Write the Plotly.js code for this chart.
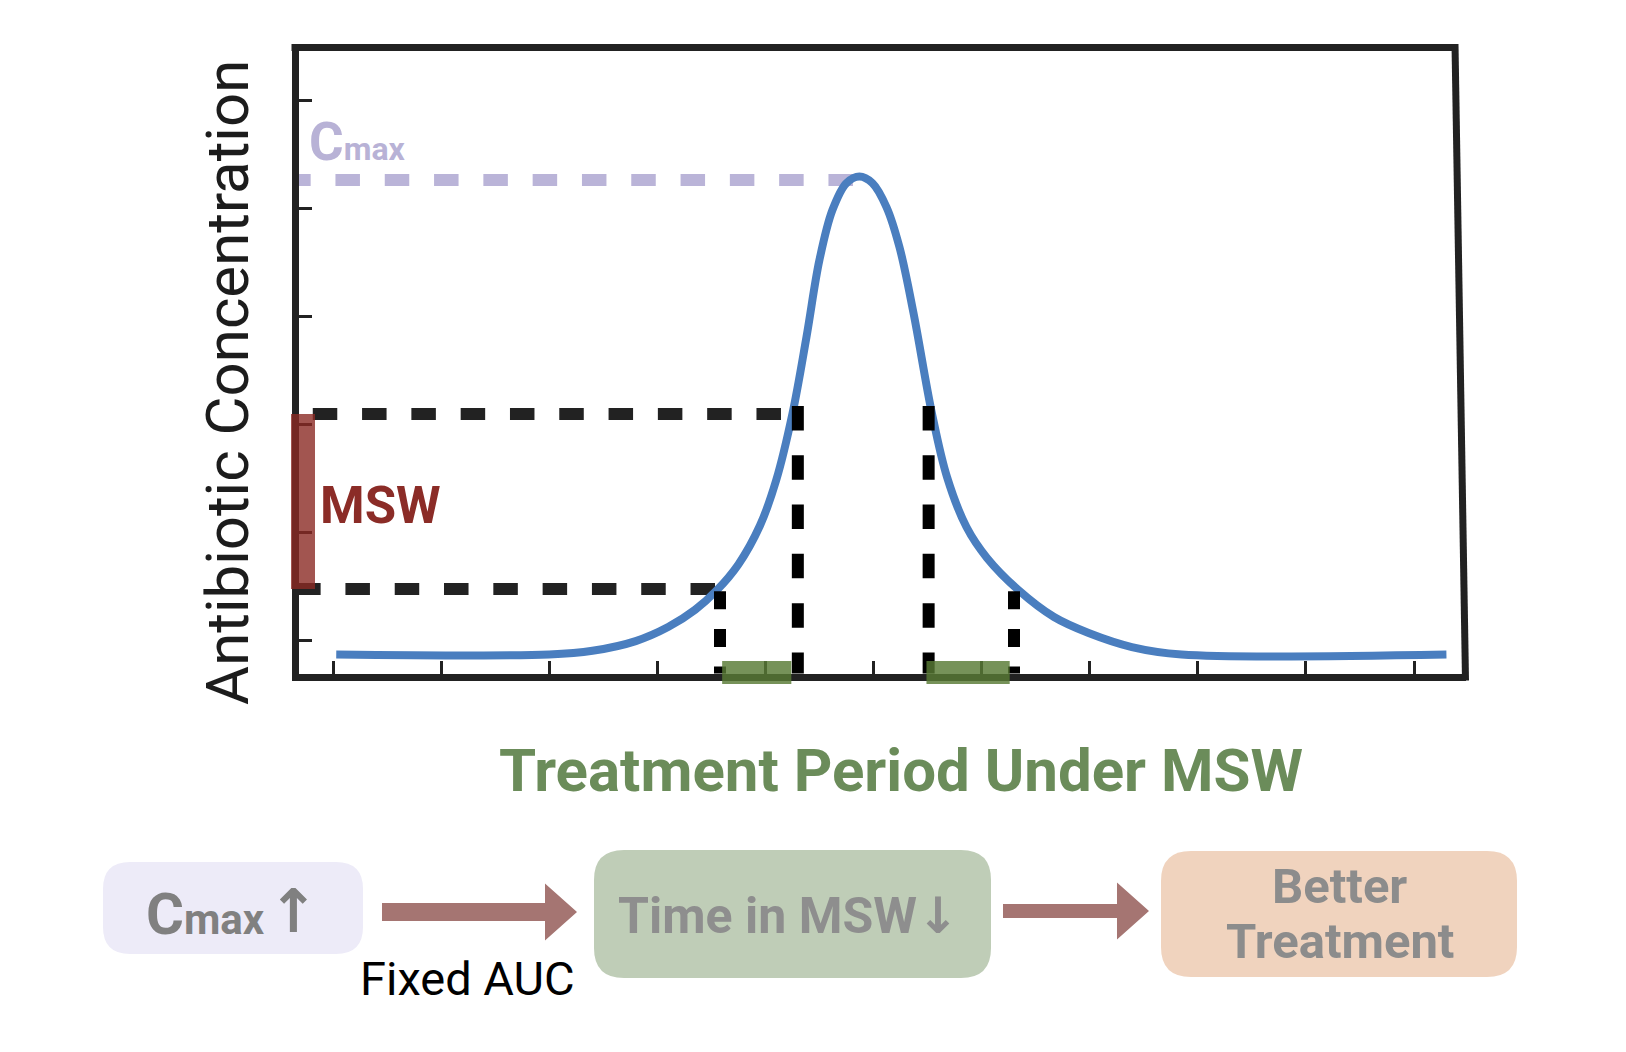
<!DOCTYPE html>
<html><head><meta charset="utf-8">
<script src="https://cdn.plot.ly/plotly-3.0.1.min.js"></script>
<style>html,body{margin:0;padding:0;background:#fff}#chart{width:1626px;height:1052px}</style>
</head><body><div id="chart"></div>
<script>
// ---------------- data ----------------
const timePoints    = [0.03, 2.00, 2.40, 2.80, 3.10, 3.35, 3.55, 3.75, 3.95, 4.10, 4.25, 4.38, 4.50, 4.62, 4.75, 4.87, 4.99, 5.12, 5.24, 5.37, 5.54, 5.68, 5.86, 6.05, 6.34, 6.67, 6.99, 7.39, 7.85, 10.30];
const concentration = [-0.134, -0.134, -0.100, -0.010, 0.120, 0.280, 0.460, 0.700, 1.060, 1.480, 2.095, 2.806, 3.519, 3.981, 4.231, 4.292, 4.231, 4.009, 3.639, 3.028, 2.102, 1.509, 1.046, 0.760, 0.463, 0.213, 0.065, -0.065, -0.134, -0.134];
const xTickVals = [0, 1, 2, 3, 4, 5, 6, 7, 8, 9, 10];
const yTickVals = [0, 1, 2, 3, 4, 5];
const cmaxLevel = 4.26;          // dashed C_max guide
const cmaxGuideEnd = 4.81;       // guide stops at the peak
const mswLower = 0.472;          // lower edge of MSW
const mswUpper = 2.093;          // upper edge of MSW
const mswCrossTimes = [3.58, 4.30, 5.51, 6.30]; // dotted drop lines where curve enters/leaves MSW
const mswGuideEnds = [3.534, 4.144];           // where lower / upper horizontal guides stop
const timeInMswBars = [[3.60, 4.24], [5.49, 6.26]];
const yTitle = "Antibiotic Concentration";
const xTitle = "Treatment Period Under MSW";
const cmaxMain = "C", cmaxSub = "max";
const mswLabel = "MSW";
const flowLabels = ["Time in MSW\u2193", "Better", "Treatment"];
const arrowLabel = "Fixed AUC";

// ---------------- layout helpers ----------------
const W = 1626, H = 1052;
const PX = v => v / W, PY = v => 1 - v / H;
const L = 298.5, R = 1465.5, T = 51, B = 673.5;
const xRange = [(L - 333) / 108.1, (R - 333) / 108.1];
const yRange = [(640 - B) / 108, (640 - T) / 108];

function P(x, y) { return (x / W).toFixed(5) + "," + (1 - y / H).toFixed(5); }
function roundRect(x0, y0, x1, y1, r) {
  return "M" + P(x0 + r, y0) + " L" + P(x1 - r, y0) + " Q" + P(x1, y0) + " " + P(x1, y0 + r) +
    " L" + P(x1, y1 - r) + " Q" + P(x1, y1) + " " + P(x1 - r, y1) +
    " L" + P(x0 + r, y1) + " Q" + P(x0, y1) + " " + P(x0, y1 - r) +
    " L" + P(x0, y0 + r) + " Q" + P(x0, y0) + " " + P(x0 + r, y0) + " Z";
}
function arrowPath(xs, xh, xt, yc, t, h) {
  return "M" + P(xs, yc - t) + " L" + P(xh, yc - t) + " L" + P(xh, yc - h) + " L" + P(xt, yc) +
    " L" + P(xh, yc + h) + " L" + P(xh, yc + t) + " L" + P(xs, yc + t) + " Z";
}

const longDash = "24.5px,24.8px";
const shortDash = "18px,19.7px";
const off = xRange[0] - 0.3;

const traces = [
  {x: [cmaxGuideEnd, off], y: [cmaxLevel, cmaxLevel], mode: "lines",
   line: {color: "#bab4d8", width: 12, dash: longDash}, hoverinfo: "skip"},
  {x: [mswGuideEnds[1], off], y: [mswUpper, mswUpper], mode: "lines",
   line: {color: "#222222", width: 12, dash: longDash}, hoverinfo: "skip"},
  {x: [mswGuideEnds[0], off], y: [mswLower, mswLower], mode: "lines",
   line: {color: "#222222", width: 12, dash: longDash}, hoverinfo: "skip"},
  {x: timePoints, y: concentration, mode: "lines",
   line: {color: "#4a7ebf", width: 8, shape: "spline", smoothing: 1.0}, hoverinfo: "skip"},
  {x: [mswCrossTimes[1], mswCrossTimes[1]], y: [mswUpper + 0.074, yRange[0] - 0.3], mode: "lines",
   line: {color: "#000000", width: 12, dash: longDash}, hoverinfo: "skip"},
  {x: [mswCrossTimes[2], mswCrossTimes[2]], y: [mswUpper + 0.074, yRange[0] - 0.3], mode: "lines",
   line: {color: "#000000", width: 12, dash: longDash}, hoverinfo: "skip"},
  {x: [mswCrossTimes[0], mswCrossTimes[0]], y: [mswLower - 0.02, yRange[0] - 0.3], mode: "lines",
   line: {color: "#000000", width: 12, dash: shortDash}, hoverinfo: "skip"},
  {x: [mswCrossTimes[3], mswCrossTimes[3]], y: [mswLower - 0.02, yRange[0] - 0.3], mode: "lines",
   line: {color: "#000000", width: 12, dash: shortDash}, hoverinfo: "skip"}
];

const shapes = [
  // frame top and slanted right side
  {type: "line", xref: "paper", yref: "paper", x0: PX(291.5), y0: PY(47.5), x1: PX(1458), y1: PY(47.5),
   line: {color: "#222222", width: 7}, layer: "above"},
  {type: "line", xref: "paper", yref: "paper", x0: PX(1455), y0: PY(44), x1: PX(1465.5), y1: PY(680.5),
   line: {color: "#222222", width: 7}, layer: "above"},
  // MSW band marker on the y axis
  {type: "rect", xref: "paper", yref: "y", x0: PX(291), x1: PX(315), y0: mswLower, y1: mswUpper,
   fillcolor: "rgba(139,42,36,0.8)", line: {width: 0}, layer: "above"},
  // flow diagram boxes
  {type: "path", xref: "paper", yref: "paper", path: roundRect(103, 862, 363, 954, 27),
   fillcolor: "#edebf8", line: {width: 0}, layer: "above"},
  {type: "path", xref: "paper", yref: "paper", path: roundRect(594, 850, 991, 978, 30),
   fillcolor: "#bfcdb7", line: {width: 0}, layer: "above"},
  {type: "path", xref: "paper", yref: "paper", path: roundRect(1161, 851, 1517, 977, 30),
   fillcolor: "#f0d3be", line: {width: 0}, layer: "above"},
  // arrows
  {type: "path", xref: "paper", yref: "paper", path: arrowPath(382, 545, 577, 912, 9, 28.5),
   fillcolor: "#a57572", line: {width: 0}, layer: "above"},
  {type: "path", xref: "paper", yref: "paper", path: arrowPath(1003, 1117, 1149, 911, 7, 28.5),
   fillcolor: "#a57572", line: {width: 0}, layer: "above"}
];
// time-in-MSW bars on the time axis
timeInMswBars.forEach(function (b) {
  shapes.push({type: "rect", xref: "x", yref: "paper", x0: b[0], x1: b[1], y0: PY(684), y1: PY(661),
    fillcolor: "rgba(88,122,52,0.82)", line: {width: 0}, layer: "above"});
});

function ann(text, x, y, size, color, weight, extra) {
  return Object.assign({text: text, xref: "paper", yref: "paper", x: PX(x), y: PY(y), showarrow: false,
    xanchor: "center", yanchor: "middle",
    font: {family: "Roboto, 'DejaVu Sans', sans-serif", size: size, color: color, weight: weight}}, extra || {});
}
function cmaxText(subSize) {
  return cmaxMain + "<span style=\"font-size:" + subSize + "px\">" + cmaxSub + "</span>";
}

const annotations = [
  ann(yTitle, 227.5, 382.5, 60, "#1c1c1c", 400, {textangle: -90}),
  ann(xTitle, 900.5, 791 - 0.342 * 60, 60, "#6b8c5a", 700),
  ann(cmaxText(32), 307, 160 - 0.342 * 53, 53, "#b8b2d6", 700, {xanchor: "left"}),
  ann(mswLabel, 318, 523 - 0.342 * 51, 51, "#8b2c27", 700, {xanchor: "left"}),
  ann(cmaxText(42), 144, 934 - 0.342 * 58, 58, "#808080", 700, {xanchor: "left"}),
  ann("\u2191", 292.5, 932 - 0.342 * 60, 60, "#808080", 700),
  ann(arrowLabel, 467.5, 995 - 0.342 * 47, 47, "#000000", 400),
  ann(flowLabels[0], 788, 933 - 0.342 * 50, 50, "#8e8e8e", 700),
  ann(flowLabels[1], 1339.5, 903 - 0.342 * 49, 49, "#8c8c8c", 700),
  ann(flowLabels[2], 1339.5, 958 - 0.342 * 49, 49, "#8c8c8c", 700)
];

const axisCommon = {showgrid: false, zeroline: false, showticklabels: false, ticks: "inside",
  ticklen: 13, tickwidth: 3, tickcolor: "#222222", showline: true, linecolor: "#222222",
  linewidth: 7, tickmode: "array", fixedrange: true, automargin: false};

const layout = {
  width: W, height: H, margin: {l: 0, r: 0, t: 0, b: 0},
  paper_bgcolor: "#ffffff", plot_bgcolor: "#ffffff", showlegend: false,
  xaxis: Object.assign({}, axisCommon, {domain: [L / W, R / W], range: xRange, tickvals: xTickVals}),
  yaxis: Object.assign({}, axisCommon, {domain: [1 - B / H, 1 - T / H], range: yRange, tickvals: yTickVals}),
  shapes: shapes, annotations: annotations
};

Plotly.newPlot("chart", traces, layout, {displayModeBar: false, staticPlot: true});
</script>
</body></html>
